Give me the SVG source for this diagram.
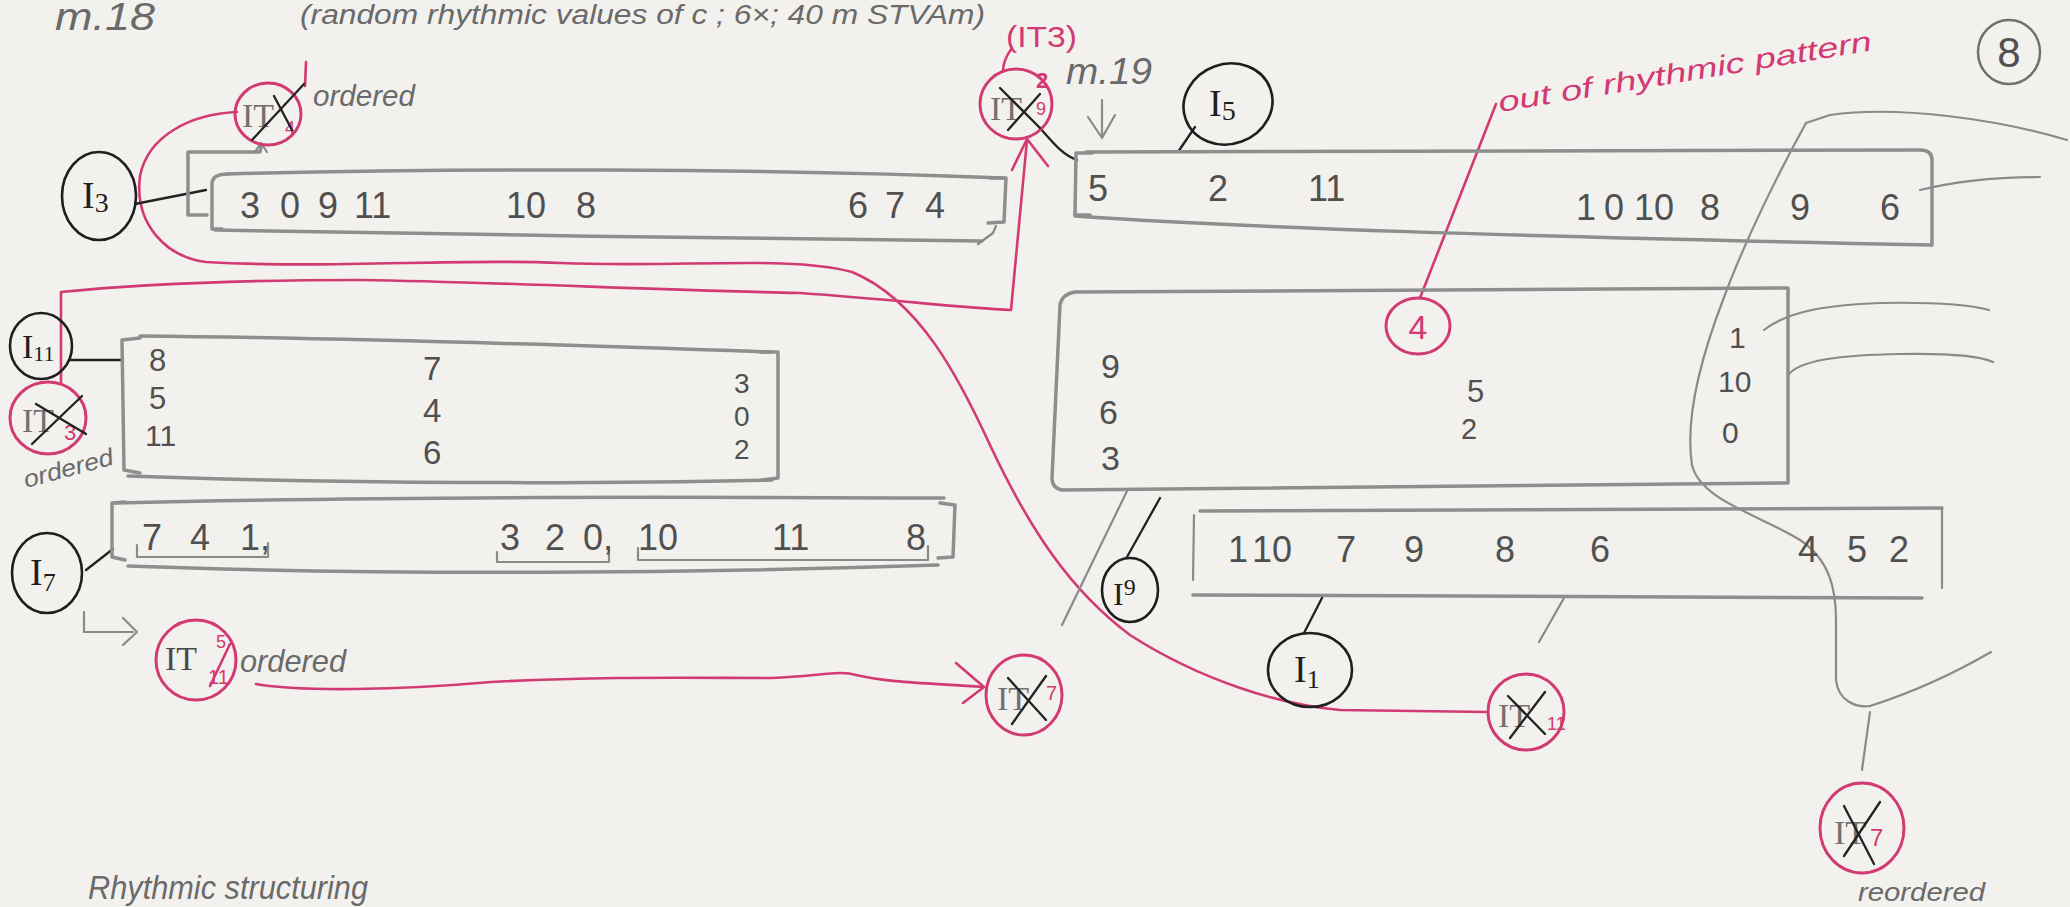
<svg xmlns="http://www.w3.org/2000/svg" width="2070" height="907" viewBox="0 0 2070 907">
<defs>
<style>
.pen{fill:none;stroke:#8e8e8e;stroke-width:3.5;stroke-linecap:round;stroke-linejoin:round}
.pent{fill:none;stroke:#8a8a8a;stroke-width:2.2;stroke-linecap:round;stroke-linejoin:round}
.ink{fill:none;stroke:#222;stroke-width:2.3;stroke-linecap:round;stroke-linejoin:round}
.red{fill:none;stroke:#d23a73;stroke-width:2.6;stroke-linecap:round;stroke-linejoin:round}
.node{fill:none;stroke:#1e1e1e;stroke-width:2.6}
.rnode{fill:none;stroke:#d23a73;stroke-width:3}
.num{font-family:"Liberation Sans",Arial,sans-serif;fill:#505050}
.lab{font-family:"Liberation Serif","Times New Roman",serif;fill:#1e1e1e}
.it{font-family:"Liberation Serif","Times New Roman",serif;fill:#707070}
.rt{font-family:"Liberation Sans",Arial,sans-serif;fill:#d23a73}
.note{font-family:"Liberation Sans",Arial,sans-serif;fill:#6a6a6a;font-style:italic}
</style>
</defs>
<rect x="0" y="0" width="2070" height="907" fill="#f3f1ee"/>

<g id="header">
<text class="note" x="55" y="30" font-size="38" textLength="100" lengthAdjust="spacingAndGlyphs">m.18</text>
<text class="note" x="300" y="24" font-size="27" textLength="685" lengthAdjust="spacingAndGlyphs">(random rhythmic values of c ; 6×; 40 m STVAm)</text>
<ellipse cx="2009" cy="52" rx="31" ry="32" fill="none" stroke="#707070" stroke-width="2.5"/>
<text class="num" x="2009" y="67" font-size="42" text-anchor="middle">8</text>
<text class="rt" x="1006" y="47" font-size="30" textLength="71" lengthAdjust="spacingAndGlyphs">(IT3)</text>
<text class="note" x="1066" y="84" font-size="36" textLength="86" lengthAdjust="spacingAndGlyphs">m.19</text>
<text class="rt" x="1500" y="112" font-size="28" textLength="378" lengthAdjust="spacingAndGlyphs" font-style="italic" transform="rotate(-9.4 1500 112)">out of rhythmic pattern</text>
<text class="note" x="88" y="899" font-size="33" textLength="280" lengthAdjust="spacingAndGlyphs">Rhythmic structuring</text>
</g>

<g id="connectors">
<path class="red" d="M237,112 C190,114 148,136 140,176 C134,224 166,257 206,262 C330,269 460,258 560,263 C680,268 790,255 852,272 C920,300 960,380 990,445 C1030,530 1070,590 1130,635 C1200,680 1280,705 1340,710 L1488,712"/>
<path class="red" d="M61,383 L61,292 C150,283 250,280 360,280 C500,282 650,290 800,293 C900,300 960,308 1011,310 L1027,140"/>
<path class="red" d="M1012,170 L1027,139 L1048,166"/>
<path class="red" d="M256,684 C300,692 400,690 491,682 C600,676 700,678 772,678 C820,676 840,670 856,675 C890,683 930,683 984,687"/>
<path class="red" d="M956,663 L984,687 L963,703"/>
<path class="red" d="M1496,104 L1420,298"/>
<path class="red" d="M1012,48 C1006,56 1003,63 1003,71"/>
<path class="red" d="M306,62 L305,86"/>
<path class="ink" d="M135,204 L206,190"/>
<path class="ink" d="M1195,127 L1178,152"/>
<path class="ink" d="M1040,128 C1055,145 1063,155 1077,160"/>
<path class="ink" d="M70,360 L121,360"/>
<path class="ink" d="M86,570 L113,549"/>
<path class="ink" d="M1127,557 L1160,498"/>
<path class="ink" d="M1304,633 L1323,596"/>
<path class="pen" d="M207,215 L188,215 L188,152 L260,152 L261,147"/>
<path class="pent" d="M255,152 L261,143 L267,152"/>
<path class="pent" d="M84,612 L84,632 L133,632"/>
<path class="pent" d="M123,618 L137,632 L123,645"/>
<path class="pent" d="M1102,100 L1102,138 M1088,117 L1102,138 L1115,115"/>
<path class="pent" d="M1127,491 L1062,625"/>
<path class="pent" d="M1564,598 L1539,642"/>
<path class="pent" d="M2067,140 C2000,120 1900,105 1830,115 L1806,123 C1780,170 1745,240 1723,300 C1700,360 1685,420 1692,465 C1700,500 1760,515 1800,540 C1830,560 1836,590 1836,620 L1836,680 C1838,700 1855,708 1870,706"/>
<path class="pent" d="M1870,706 C1920,690 1960,670 1991,652"/>
<path class="pent" d="M1870,712 L1862,770"/>
<path class="pent" d="M1764,330 C1790,310 1830,305 1880,303 C1930,302 1970,305 1989,310"/>
<path class="pent" d="M1788,375 C1800,360 1840,355 1900,354 C1950,353 1980,356 1993,362"/>
<path class="pent" d="M1920,190 C1960,180 2000,177 2040,177"/>
</g>

<g id="box-I3">
<path class="pen" d="M228,174 C450,168 750,168 1004,178"/>
<path class="pen" d="M228,174 Q212,174 212,184 L212,229 L222,229"/>
<path class="pen" d="M215,230 C450,235 750,238 982,241"/>
<path class="pen" d="M990,178 L1006,178 L1004,222 L988,223"/>
<path class="pent" d="M996,226 L993,233 L978,244"/>
<text class="num" y="218" font-size="36"><tspan x="240">3</tspan><tspan x="280">0</tspan><tspan x="318">9</tspan><tspan x="354">11</tspan><tspan x="506">10</tspan><tspan x="576">8</tspan><tspan x="848">6</tspan><tspan x="885">7</tspan><tspan x="925">4</tspan></text>
</g>

<g id="box-I5">
<path class="pen" d="M1092,153 L1076,153 L1075,215 L1090,215"/>
<path class="pen" d="M1086,152 C1300,150 1600,152 1920,150 Q1932,150 1932,160 L1932,243"/>
<path class="pen" d="M1075,216 C1250,228 1500,236 1932,245"/>
<text class="num" y="201" font-size="36"><tspan x="1088">5</tspan><tspan x="1208">2</tspan><tspan x="1308">11</tspan></text>
<text class="num" y="220" font-size="36"><tspan x="1576">1</tspan><tspan x="1604">0</tspan><tspan x="1634">10</tspan><tspan x="1700">8</tspan><tspan x="1790">9</tspan><tspan x="1880">6</tspan></text>
</g>

<g id="box-mid">
<path class="pen" d="M1075,292 L1788,288 L1788,483 L1062,490 Q1052,488 1052,478 L1060,305 Q1062,294 1075,292 Z"/>
<text class="num" font-size="34" x="1101" y="378">9</text>
<text class="num" font-size="34" x="1099" y="424">6</text>
<text class="num" font-size="34" x="1101" y="470">3</text>
<text class="num" font-size="31" x="1467" y="402">5</text>
<text class="num" font-size="29" x="1461" y="439">2</text>
<text class="num" font-size="30" x="1729" y="348">1</text>
<text class="num" font-size="30" x="1718" y="392">10</text>
<text class="num" font-size="30" x="1722" y="443">0</text>
</g>

<g id="box-I11">
<path class="pen" d="M140,338 L122,340 L124,470 L140,473"/>
<path class="pen" d="M140,336 C350,338 600,346 770,352"/>
<path class="pen" d="M760,352 L778,352 L778,478 L762,480"/>
<path class="pen" d="M128,476 C350,484 600,484 772,480"/>
<text class="num" font-size="31" x="149" y="371">8</text>
<text class="num" font-size="31" x="149" y="409">5</text>
<text class="num" font-size="30" x="145" y="446">11</text>
<text class="num" font-size="33" x="423" y="380">7</text>
<text class="num" font-size="33" x="423" y="422">4</text>
<text class="num" font-size="33" x="423" y="464">6</text>
<text class="num" font-size="28" x="734" y="393">3</text>
<text class="num" font-size="28" x="734" y="426">0</text>
<text class="num" font-size="28" x="734" y="459">2</text>
</g>

<g id="box-I7">
<path class="pen" d="M125,502 L112,503 L112,557 L125,560"/>
<path class="pen" d="M115,503 C400,496 700,497 944,498"/>
<path class="pen" d="M940,503 L955,505 L953,557 L938,558"/>
<path class="pen" d="M128,566 C400,576 700,573 938,565"/>
<path class="pent" d="M137,545 L137,557 L268,557 L268,543"/>
<path class="pent" d="M497,552 L497,562 L609,562 L609,548"/>
<path class="pent" d="M638,548 L638,560 L928,560 L928,546"/>
<text class="num" y="550" font-size="36"><tspan x="142">7</tspan><tspan x="190">4</tspan><tspan x="240">1,</tspan><tspan x="500">3</tspan><tspan x="545">2</tspan><tspan x="583">0,</tspan><tspan x="638">10</tspan><tspan x="772">11</tspan><tspan x="906">8</tspan></text>
</g>

<g id="box-I1">
<path class="pent" d="M1194,515 L1193,580"/>
<path class="pen" d="M1200,511 L1942,508"/>
<path class="pent" d="M1942,508 L1942,588"/>
<path class="pen" d="M1193,595 L1922,598" stroke-width="5"/>
<text class="num" y="562" font-size="36"><tspan x="1228">1</tspan><tspan x="1252">10</tspan><tspan x="1336">7</tspan><tspan x="1404">9</tspan><tspan x="1495">8</tspan><tspan x="1590">6</tspan><tspan x="1798">4</tspan><tspan x="1847">5</tspan><tspan x="1889">2</tspan></text>
</g>

<g id="I3"><ellipse class="node" cx="99" cy="196" rx="37" ry="44"/><text class="lab" x="82" y="208" font-size="38">I<tspan font-size="28" dy="4">3</tspan></text></g>
<g id="I5"><ellipse class="node" cx="1228" cy="104" rx="45" ry="40" transform="rotate(-20 1228 104)"/><text class="lab" x="1209" y="116" font-size="38">I<tspan font-size="28" dy="4">5</tspan></text></g>
<g id="I11"><ellipse class="node" cx="41" cy="346" rx="31" ry="33"/><text class="lab" x="22" y="358" font-size="34">I<tspan font-size="22" dy="3">11</tspan></text></g>
<g id="I7"><ellipse class="node" cx="47" cy="573" rx="35" ry="40"/><text class="lab" x="30" y="585" font-size="38">I<tspan font-size="26" dy="6">7</tspan></text></g>
<g id="I9"><ellipse class="node" cx="1130" cy="590" rx="28" ry="32" fill="#e8edf3"/><text class="lab" x="1113" y="605" font-size="32">I<tspan font-size="24" dy="-10">9</tspan></text></g>
<g id="I1"><ellipse class="node" cx="1310" cy="670" rx="42" ry="37"/><text class="lab" x="1294" y="682" font-size="38">I<tspan font-size="26" dy="6">1</tspan></text></g>

<g id="IT4"><ellipse class="rnode" cx="268" cy="114" rx="33" ry="31"/><text class="it" x="242" y="127" font-size="34">IT</text><text class="rt" x="285" y="134" font-size="18">4</text><path class="ink" d="M252,140 L304,84 M274,96 L292,130" stroke-width="1.8"/><text class="note" x="313" y="106" font-size="30" textLength="102" lengthAdjust="spacingAndGlyphs">ordered</text></g>
<g id="IT9"><ellipse class="rnode" cx="1016" cy="104" rx="36" ry="35"/><text class="it" x="990" y="120" font-size="34">IT</text><text class="rt" x="1036" y="115" font-size="18">9</text><text class="rt" x="1036" y="88" font-size="22" font-weight="bold">2</text><path class="ink" d="M1000,88 L1040,128 M1008,130 L1040,94" stroke-width="1.8"/></g>
<g id="IT3"><ellipse class="rnode" cx="48" cy="418" rx="38" ry="36"/><text class="it" x="22" y="432" font-size="34">IT</text><text class="rt" x="64" y="440" font-size="22">3</text><path class="ink" d="M32,444 L82,396 M36,404 L86,434" stroke-width="1.8"/><text class="note" x="26" y="488" font-size="24" textLength="92" lengthAdjust="spacingAndGlyphs" transform="rotate(-15 26 488)">ordered</text></g>
<g id="IT5"><ellipse class="rnode" cx="196" cy="660" rx="40" ry="40"/><text class="it" x="165" y="670" font-size="34" style="fill:#4a4a4a">IT</text><text class="rt" x="216" y="648" font-size="18">5</text><text class="rt" x="208" y="684" font-size="20">11</text><path class="red" d="M210,686 L230,644" stroke-width="2"/><text class="note" x="240" y="672" font-size="32" textLength="106" lengthAdjust="spacingAndGlyphs">ordered</text></g>
<g id="IIT7"><ellipse class="rnode" cx="1024" cy="695" rx="38" ry="40"/><text class="it" x="997" y="710" font-size="34">IT</text><text class="rt" x="1046" y="700" font-size="20">7</text><path class="ink" d="M1008,678 L1046,720 M1046,676 L1012,724" stroke-width="1.8"/></g>
<g id="IIT11"><ellipse class="rnode" cx="1526" cy="712" rx="38" ry="38"/><text class="it" x="1498" y="727" font-size="34">IT</text><text class="rt" x="1547" y="730" font-size="18">11</text><path class="ink" d="M1508,696 L1545,734 M1545,692 L1510,738" stroke-width="1.8"/></g>
<g id="IT7"><ellipse class="rnode" cx="1862" cy="828" rx="42" ry="45"/><text class="it" x="1834" y="844" font-size="34">IT</text><text class="rt" x="1870" y="846" font-size="24">7</text><path class="ink" d="M1844,806 L1874,864 M1880,802 L1844,856" stroke-width="1.8"/><text class="note" x="1858" y="901" font-size="26" textLength="127" lengthAdjust="spacingAndGlyphs">reordered</text></g>
<g id="note4"><ellipse class="rnode" cx="1418" cy="326" rx="32" ry="28"/><text class="rt" x="1418" y="339" font-size="34" text-anchor="middle">4</text></g>
</svg>
